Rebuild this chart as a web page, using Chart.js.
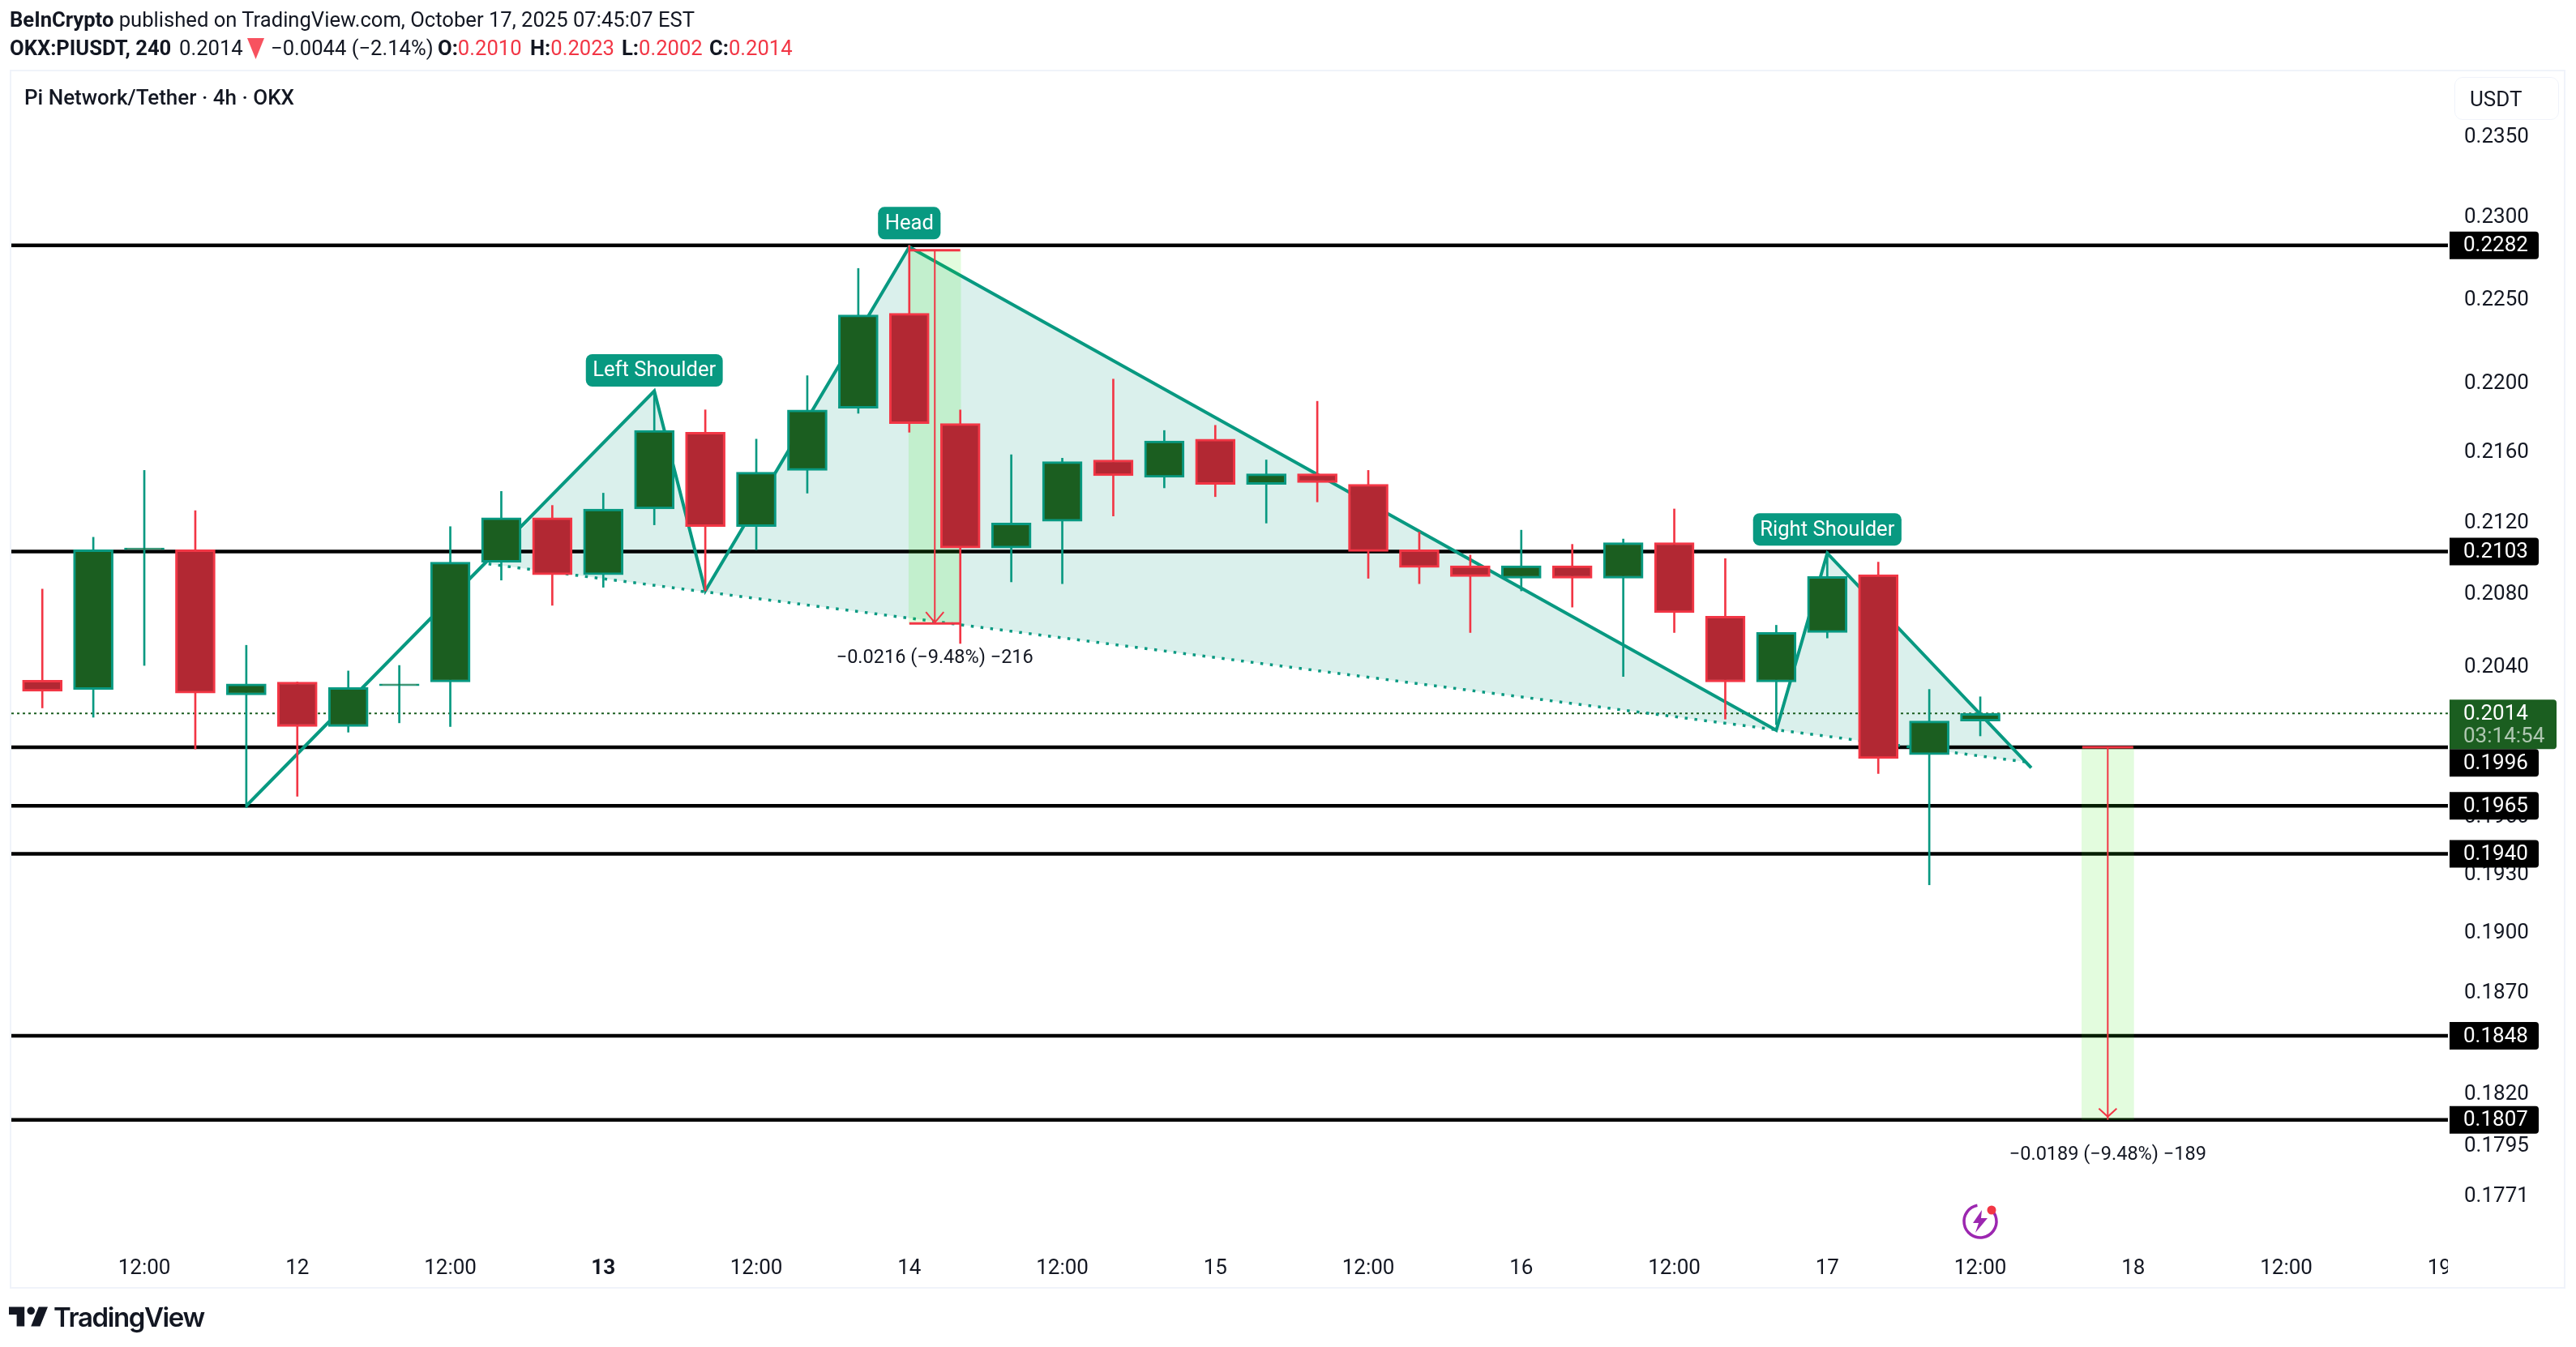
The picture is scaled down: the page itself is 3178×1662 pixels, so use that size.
<!DOCTYPE html>
<html><head><meta charset="utf-8">
<style>
html,body{margin:0;padding:0;background:#fff;width:3178px;height:1662px;overflow:hidden;font-family:Roboto,sans-serif;color:#131722}
#panel{position:absolute;left:12px;top:86px;width:3149px;height:1500px;border:2.5px solid #f0f3fa;box-sizing:content-box}
canvas{position:absolute;left:0;top:0}
.t{position:absolute;font-size:25.6px;line-height:30px;white-space:nowrap}
b{font-weight:700}
.r{color:#f23645}
#usdt{position:absolute;left:3028px;top:95px;width:127px;height:51px;border:1.5px solid #f0f3fa;border-radius:10px;font-size:26px;line-height:53px;text-indent:18px;z-index:3}
#logo{position:absolute;left:11px;top:1612px;width:48px;height:25px}
#tv{position:absolute;left:66px;top:1605px;font:600 33px/40px Inter,sans-serif;letter-spacing:-1.4px;color:#131722}
</style></head><body>
<div id="panel"></div>
<canvas id="c" width="3178" height="1662"></canvas>
<div class="t" style="left:12px;top:9px"><b>BeInCrypto</b> published on TradingView.com, October 17, 2025 07:45:07 EST</div>
<div class="t" style="left:12px;top:44px"><b>OKX:PIUSDT, 240</b></div>
<div class="t" style="left:221px;top:44px">0.2014</div>
<svg style="position:absolute;left:305px;top:47px" width="22" height="26"><path d="M0 0H21L10.5 26Z" fill="#f7525f"/></svg>
<div class="t" style="left:334px;top:44px">−0.0044 (−2.14%)</div>
<div class="t" style="left:540px;top:44px"><b>O:</b><span class="r">0.2010</span></div>
<div class="t" style="left:654px;top:44px"><b>H:</b><span class="r">0.2023</span></div>
<div class="t" style="left:767px;top:44px"><b>L:</b><span class="r">0.2002</span></div>
<div class="t" style="left:875px;top:44px"><b>C:</b><span class="r">0.2014</span></div>
<div class="t" style="left:30px;top:105px;font-weight:500;font-size:26px">Pi Network/Tether · 4h · OKX</div>
<div id="usdt">USDT</div>
<svg id="logo" viewBox="2 6 30 15"><path fill="#131722" d="M14 6H2v6h6v9h6V6Zm12 15h-7l6-15h7l-6 15Zm-7-9a3 3 0 1 0 0-6 3 3 0 0 0 0 6Z"/></svg>
<div id="tv">TradingView</div>
<script src="https://cdn.jsdelivr.net/npm/chart.js@4/dist/chart.umd.min.js"></script>
<script>
const opens =[.2032,.2027,.2104,.2104,.2024,.2031,.2007,.2029,.2031,.2097,.2122,.2090,.2127,.2171,.2117,.2149,.2185,.2241,.2176,.2105,.2120,.2155,.2145,.2167,.2141,.2147,.2141,.2104,.2095,.2088,.2095,.2088,.2108,.2067,.2031,.2058,.2090,.1992,.2010];
const closes=[.2026,.2104,.2105,.2025,.2030,.2007,.2028,.2030,.2097,.2122,.2090,.2127,.2172,.2117,.2148,.2184,.2240,.2176,.2105,.2119,.2154,.2146,.2166,.2141,.2147,.2142,.2103,.2094,.2089,.2095,.2088,.2108,.2069,.2031,.2058,.2089,.1990,.2010,.2014];
const highs =[.2082,.2111,.2149,.2126,.2051,.2031,.2037,.2040,.2117,.2137,.2129,.2136,.2195,.2184,.2167,.2204,.2268,.2282,.2184,.2158,.2156,.2202,.2172,.2175,.2155,.2189,.2149,.2114,.2101,.2115,.2107,.2110,.2127,.2099,.2062,.2103,.2097,.2027,.2023];
const lows  =[.2017,.2012,.2040,.1995,.1964,.1970,.2004,.2009,.2007,.2087,.2073,.2083,.2118,.2081,.2104,.2136,.2182,.2171,.2052,.2086,.2085,.2123,.2139,.2134,.2119,.2131,.2088,.2085,.2058,.2081,.2072,.2034,.2058,.2011,.2008,.2055,.1982,.1924,.2002];
const levels=[.2282,.2103,.1996,.1965,.1940,.1848,.1807];
const lastPrice=.2014, countdown="03:14:54";
const yTickValues=[.2350,.2300,.2250,.2200,.2160,.2120,.2080,.2040,.1960,.1930,.1900,.1870,.1820,.1795,.1771];
const xTickIndex=[2,5,8,11,14,17,20,23,26,29,32,35,38,41,44,47];
const xTickLabels=["12:00","12","12:00","13","12:00","14","12:00","15","12:00","16","12:00","17","12:00","18","12:00","19"];
const patternX=[4,12,13,17,34,35,39];
const patternP=[.1965,.2195,.2081,.2281,.2005,.2102,.1985];
const neckX=[8.75,38.94];
const neckP=[.2096,.1988];
const patternNames=[["Left Shoulder",12,.2195],["Head",17,.2281],["Right Shoulder",35,.2102]];
const rangeX=[17.5,40.5];
const rangeTop=[.2279,.1996];
const rangeBottom=[.2063,.1807];
const rangeText=["−0.0216 (−9.48%) −216","−0.0189 (−9.48%) −189"];

const TEAL="#089981",RED="#f23645",GFILL="#1b5e20",RFILL="#b22833";
const xy=(xs,ys)=>xs.map((x,i)=>({x,y:ys[i]}));
const idx=opens.map((_,i)=>i);
const up=i=>closes[i]>=opens[i];
const XMIN=-0.607,XMAX=47.17;

const ds=[];
levels.forEach(v=>ds.push({type:'line',data:xy([XMIN,XMAX],[v,v]),borderColor:'#000',borderWidth:4.5,pointRadius:0,order:10}));
ds.push({type:'line',data:xy([XMIN,XMAX],[lastPrice,lastPrice]),borderColor:GFILL,borderWidth:2,borderDash:[3,4],pointRadius:0,order:9});
ds.push({type:'line',data:xy(patternX,patternP),borderColor:TEAL,borderWidth:4,pointRadius:0,tension:0,order:8});
ds.push({type:'line',data:xy(neckX,neckP),borderColor:TEAL,borderWidth:3.5,borderDash:[3.5,8.5],pointRadius:0,order:8});
ds.push({type:'bar',data:rangeX.map((x,i)=>({x,y:[rangeBottom[i],rangeTop[i]]})),backgroundColor:'rgba(38,230,0,.13)',barThickness:64,grouped:false,order:7});
rangeX.forEach((x,i)=>{
  ds.push({type:'line',data:xy([x,x],[rangeTop[i],rangeBottom[i]]),borderColor:RED,borderWidth:2,pointRadius:0,order:6});
  ds.push({type:'line',data:xy([x-.5,x+.5],[rangeTop[i],rangeTop[i]]),borderColor:RED,borderWidth:3,pointRadius:0,order:6});
  if(i==0)ds.push({type:'line',data:xy([x-.5,x+.5],[rangeBottom[i],rangeBottom[i]]),borderColor:RED,borderWidth:3,pointRadius:0,order:6});
});
ds.push({type:'bar',data:idx.map(i=>({x:i,y:[lows[i],highs[i]]})),backgroundColor:idx.map(i=>up(i)?TEAL:RED),barThickness:2,grouped:false,order:3});
ds.push({type:'bar',data:idx.map(i=>({x:i,y:[opens[i],closes[i]]})),backgroundColor:idx.map(i=>up(i)?GFILL:RFILL),borderColor:idx.map(i=>up(i)?TEAL:RED),borderWidth:3,borderSkipped:false,barThickness:49,grouped:false,order:2});

const overlay={id:'overlay',
 beforeDatasetsDraw(ch){
  const {ctx,scales:{x,y},chartArea:a}=ch;
  ctx.save();ctx.beginPath();ctx.rect(a.left,a.top,a.width,a.height);ctx.clip();
  ctx.fillStyle='rgba(8,153,129,.15)';ctx.beginPath();
  patternX.forEach((v,i)=>{
    const px=x.getPixelForValue(i==patternX.length-1?neckX[1]:v),py=y.getPixelForValue(i==patternX.length-1?neckP[1]:patternP[i]);
    if(i==0)ctx.moveTo(x.getPixelForValue(neckX[0]),y.getPixelForValue(neckP[0]));
    if(i>0)ctx.lineTo(px,py);
  });
  ctx.closePath();ctx.fill();ctx.restore();
 },
 afterDraw(ch){
  const {ctx,scales:{x,y},chartArea:a}=ch;
  ctx.save();
  ctx.fillStyle='#fff';ctx.fillRect(a.right,a.bottom+2,18,52);
  rangeX.forEach((v,i)=>{
    const px=x.getPixelForValue(v),py=y.getPixelForValue(rangeBottom[i]);
    ctx.strokeStyle=RED;ctx.lineWidth=2;ctx.beginPath();
    ctx.moveTo(px-11,py-14);ctx.lineTo(px,py-(i?4:1));ctx.lineTo(px+11,py-14);ctx.stroke();
    ctx.fillStyle='#131722';ctx.font='23.5px Roboto';ctx.textAlign='center';ctx.textBaseline='middle';
    ctx.fillText(rangeText[i],px,py+43);
  });
  patternNames.forEach(([t,i,p],n)=>{
    const px=x.getPixelForValue(i),py=y.getPixelForValue(p)+(n==0?4:0);
    ctx.font='25.6px Roboto';
    const w=ctx.measureText(t).width+17;
    ctx.fillStyle=TEAL;ctx.beginPath();ctx.roundRect(px-w/2,py-49.5,w,40,8);ctx.fill();
    ctx.fillStyle='#fff';ctx.textAlign='center';ctx.textBaseline='middle';
    ctx.fillText(t,px,py-28.5);
  });
  const tagL=a.right+2,tagW=110,tagH=34,textX=a.right+19;
  const ly=y.getPixelForValue(lastPrice);
  const gTop=ly-17,gBottom=gTop+61;
  ctx.font='26px Roboto';ctx.textAlign='left';ctx.textBaseline='middle';
  levels.forEach(v=>{
    let py=y.getPixelForValue(v);
    if(py-tagH/2<gBottom&&py+tagH/2>gTop)py=gBottom+tagH/2;
    ctx.fillStyle='#000';ctx.beginPath();ctx.roundRect(tagL,py-tagH/2,tagW,tagH,[0,4,4,0]);ctx.fill();
    ctx.fillStyle='#fff';ctx.fillText(v.toFixed(4),textX,py+1);
  });
  ctx.fillStyle=GFILL;ctx.beginPath();ctx.roundRect(tagL,gTop,132,61,[0,4,4,0]);ctx.fill();
  ctx.fillStyle='#fff';ctx.fillText(lastPrice.toFixed(4),textX,ly+1);
  ctx.fillStyle='rgba(255,255,255,.65)';ctx.fillText(countdown,textX,ly+29);
  const cx=2443,cy=1507,r=20;
  ctx.strokeStyle='#9c27b0';ctx.lineWidth=3.5;ctx.beginPath();ctx.arc(cx,cy,r,-0.95,-1.75+Math.PI*2,false);ctx.stroke();
  ctx.fillStyle='#9c27b0';ctx.beginPath();
  ctx.moveTo(cx+2,cy-14);ctx.lineTo(cx-9,cy+2);ctx.lineTo(cx-2,cy+2);ctx.lineTo(cx-6,cy+14);ctx.lineTo(cx+9,cy-4);ctx.lineTo(cx+1,cy-4);ctx.closePath();ctx.fill();
  ctx.fillStyle='#f23645';ctx.beginPath();ctx.arc(2457,1493,5.5,0,Math.PI*2);ctx.fill();
  ctx.restore();
 }};

new Chart(document.getElementById('c'),{
 type:'line',
 data:{datasets:ds},
 plugins:[overlay],
 options:{responsive:false,devicePixelRatio:1,animation:false,
  layout:{padding:{left:14,top:88,right:13,bottom:74}},
  plugins:{legend:{display:false},tooltip:{enabled:false},title:{display:false}},
  scales:{
   x:{type:'linear',min:XMIN,max:XMAX,offset:false,grid:{display:false},border:{display:false},
     afterFit(s){s.height=58},
     afterBuildTicks(s){s.ticks=xTickIndex.map(value=>({value}))},
     ticks:{autoSkip:false,maxRotation:0,color:'#131722',padding:12,
       font:c=>({family:'Roboto',size:26,weight:(c.tick&&xTickLabels[xTickIndex.indexOf(c.tick.value)]==="13")?'bold':'normal'}),
       callback:v=>xTickLabels[xTickIndex.indexOf(v)]}},
   y:{type:'logarithmic',position:'right',min:.17519,max:.23905,grid:{display:false},border:{display:false},
     afterFit(s){s.width=145},
     afterBuildTicks(s){s.ticks=yTickValues.map(value=>({value}))},
     ticks:{autoSkip:false,crossAlign:'near',padding:12,labelOffset:2,color:'#131722',font:{family:'Roboto',size:26},
       callback:v=>(+v).toFixed(4)}}
  }}
});
</script>
</body></html>
